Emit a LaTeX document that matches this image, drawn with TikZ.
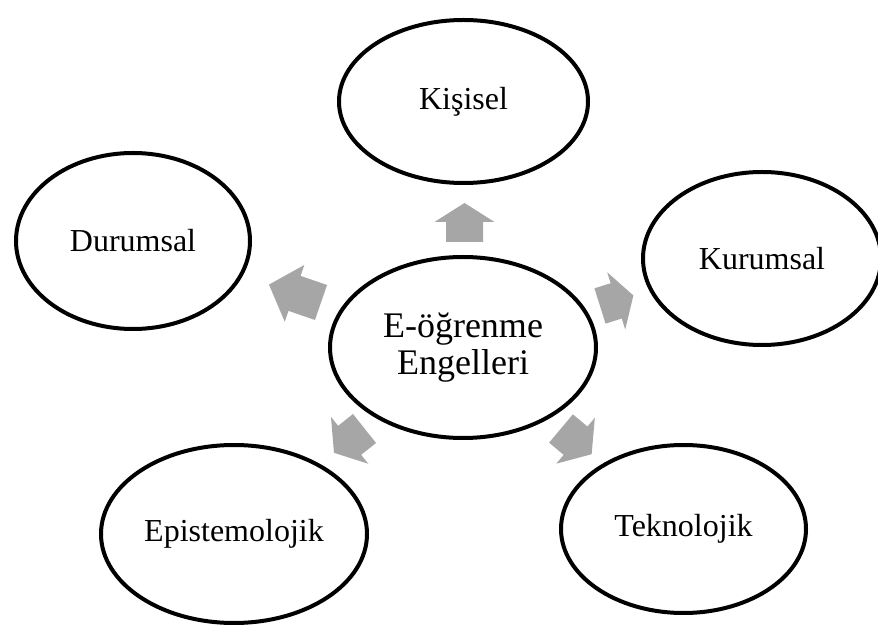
\documentclass[tikz,border=0pt]{standalone}
\usepackage{fontspec}
\setmainfont{Liberation Serif}
\usetikzlibrary{shapes.geometric}
\definecolor{arrowgray}{RGB}{166,166,166}
\newcommand\blockarr[5]{\fill[arrowgray,shift={(#1,#2)},rotate=#3] (0,-18.5) -- (#4,-18.5) -- (#4,-30) -- ({#4+#5},0) -- (#4,30) -- (#4,18.5) -- (0,18.5) -- cycle;}
\begin{document}
\begin{tikzpicture}[x=0.75pt,y=-0.75pt,
  bubble/.style 2 args={ellipse, draw=black, line width=3pt, inner sep=0pt,
    minimum width={#1*1.5pt}, minimum height={#2*1.5pt},
    font=\fontsize{24}{28}\selectfont, align=center}]
\useasboundingbox (0,0) rectangle (878,630);
\node[bubble={133}{90.5}, font=\fontsize{27}{28}\selectfont] (center) at (463,347.5) {E-öğrenme\\Engelleri};
\node[bubble={124.5}{81.5}] (kisisel) at (463.5,101.5) {Kişisel};
\node[bubble={117}{88}] (durumsal) at (133,241) {Durumsal};
\node[bubble={119}{86.5}] (kurumsal) at (762,258.5) {Kurumsal};
\node[bubble={133}{89}] (episte) at (234,534) {Epistemolojik};
\node[bubble={122.5}{84}] (teknoloji) at (683.5,529) {Teknolojik};
% block arrows: base x, base y, angle, shaft length, head length
\blockarr{464.5}{242}{90}{20}{19}
\blockarr{321}{302.5}{161}{28}{27}
\blockarr{600}{306}{17.5}{17}{18}
\blockarr{364.5}{428.5}{218.5}{19}{20}
\blockarr{561}{428.5}{-40}{19}{21}
\end{tikzpicture}
\end{document}
